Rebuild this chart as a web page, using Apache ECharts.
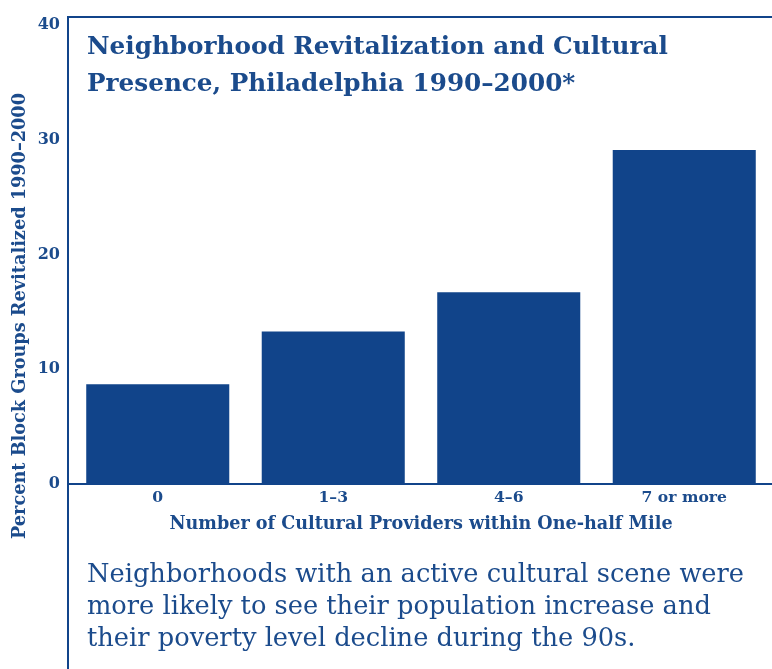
<!DOCTYPE html>
<html>
<head>
<meta charset="utf-8">
<script src="https://cdn.jsdelivr.net/npm/echarts@6/dist/echarts.min.js"></script>
<style>
html,body{margin:0;padding:0;background:#fff;}
#chart{width:772px;height:669px;}
</style>
</head>
<body>
<div id="chart"></div>
<script>
var categories = ['0', '1–3', '4–6', '7 or more'];
var values = [8.7, 13.3, 16.7, 29.1];
var yTicks = [0, 10, 20, 30, 40];

var BLUE = '#11448a';
var TEXT = '#1b4b8c';
var FONT = '"DejaVu Serif", serif';

var chart = echarts.init(document.getElementById('chart'));
chart.setOption({
  backgroundColor: '#ffffff',
  animation: false,
  title: {
    text: 'Neighborhood Revitalization and Cultural\nPresence, Philadelphia 1990–2000*',
    left: 82, top: 24,
    textStyle: { color: TEXT, fontFamily: FONT, fontWeight: 'bold', fontSize: 24.7, lineHeight: 37 }
  },
  grid: { left: 70, right: -2, top: 25, bottom: 185 },
  xAxis: {
    type: 'category',
    data: categories,
    axisLine: { lineStyle: { color: BLUE, width: 2 } },
    axisTick: { show: false },
    axisLabel: { color: TEXT, fontFamily: FONT, fontWeight: 'bold', fontSize: 15.6, margin: 6 },
    name: 'Number of Cultural Providers within One-half Mile',
    nameLocation: 'middle',
    nameGap: 31,
    nameTextStyle: { color: TEXT, fontFamily: FONT, fontWeight: 'bold', fontSize: 17.6 }
  },
  yAxis: {
    type: 'value',
    min: yTicks[0], max: yTicks[yTicks.length - 1], interval: 10,
    axisLine: { show: false },
    axisTick: { show: false },
    splitLine: { show: false },
    axisLabel: { color: TEXT, fontFamily: FONT, fontWeight: 'bold', fontSize: 16, margin: 10 }
  },
  series: [{
    type: 'bar',
    data: values,
    barCategoryGap: '18.5%',
    itemStyle: { color: BLUE }
  }],
  graphic: [
    { type: 'line', shape: { x1: 68, y1: 16, x2: 68, y2: 669 }, style: { stroke: BLUE, lineWidth: 2 }, silent: true, z: 10 },
    { type: 'line', shape: { x1: 67, y1: 17, x2: 772, y2: 17 }, style: { stroke: BLUE, lineWidth: 2 }, silent: true, z: 10 },
    { type: 'line', shape: { x1: 68, y1: 484, x2: 72, y2: 484 }, style: { stroke: BLUE, lineWidth: 2 }, silent: true, z: 10 },
    { type: 'text', x: 20, y: 316, rotation: Math.PI / 2,
      style: { text: 'Percent Block Groups Revitalized 1990–2000', fill: TEXT, font: 'bold 17.7px "DejaVu Serif", serif', textAlign: 'center', textVerticalAlign: 'middle' } },
    { type: 'text', left: 87, top: 559,
      style: { text: 'Neighborhoods with an active cultural scene were\nmore likely to see their population increase and\ntheir poverty level decline during the 90s.', fill: TEXT, font: '25.7px "DejaVu Serif", serif', lineHeight: 32 } }
  ]
});
</script>
</body>
</html>
